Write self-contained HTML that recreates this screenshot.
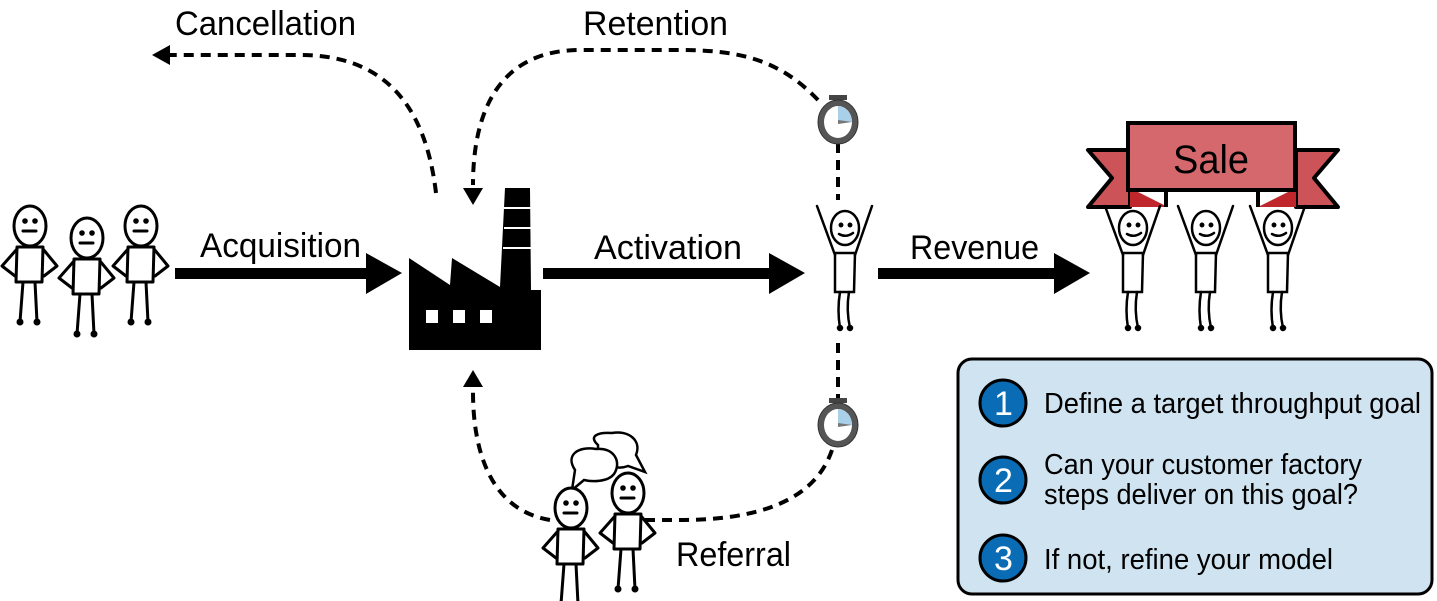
<!DOCTYPE html>
<html><head><meta charset="utf-8"><style>
html,body{margin:0;padding:0;background:#fff;}
svg{display:block}
text{font-family:"Liberation Sans Narrow","Liberation Sans",sans-serif;fill:#000}
</style></head><body>
<svg width="1437" height="601" viewBox="0 0 1437 601" xmlns="http://www.w3.org/2000/svg">
<defs>
<g id="stand" fill="none" stroke="#000" stroke-width="3" stroke-linecap="round" stroke-linejoin="round">
  <ellipse cx="0" cy="0" rx="16" ry="20" fill="#fff"/>
  <circle cx="-5" cy="-5" r="1.3" fill="#000"/><circle cx="5" cy="-5" r="1.3" fill="#000"/>
  <line x1="-7" y1="5" x2="6" y2="5"/>
  <path d="M-13 21 L-14 56 L12 56 L13 21 Z" fill="#fff"/>
  <path d="M-13 23 L-28 40 L-15 50"/><path d="M13 23 L27 40 L14 50"/>
  <path d="M-7 56 L-10 96"/><path d="M5 56 L7 96"/>
  <circle cx="-10" cy="96" r="2" fill="#000"/><circle cx="7" cy="96" r="2" fill="#000"/>
</g>
<g id="up" fill="none" stroke="#000" stroke-width="2.5" stroke-linecap="round">
  <ellipse cx="0" cy="0" rx="14" ry="17" fill="#fff"/>
  <circle cx="-4" cy="-3" r="1.2" fill="#000"/><circle cx="5" cy="-3" r="1.2" fill="#000"/>
  <path d="M-6 6 Q1 10 8 5"/>
  <path d="M-10 25 L-10 64 L9 64 L10 25 Z" fill="#fff"/>
  <path d="M-10 27 L-28 -22"/><path d="M10 27 L27 -22"/>
  <path d="M-5 64 Q-8 82 -5 100"/><path d="M4 64 Q1 82 5 100"/>
  <circle cx="-5" cy="100" r="2" fill="#000"/><circle cx="5" cy="100" r="2" fill="#000"/>
</g>
<g id="watch">
  <rect x="-9" y="-27" width="18" height="5" fill="#444"/>
  <rect x="-3" y="-24" width="6" height="6" fill="#444"/>
  <ellipse cx="0" cy="0" rx="20" ry="22" fill="#555" stroke="#333" stroke-width="1"/>
  <ellipse cx="0" cy="0" rx="14" ry="16" fill="#fff"/>
  <path d="M0 0 L0 -16 A14 16 0 0 1 14 0 Z" fill="#a9cfe9"/>
  <path d="M0 -2 L14 0 L0 2 Z" fill="#777"/>
</g>
</defs>

<!-- dashed connectors -->
<g fill="none" stroke="#000" stroke-width="4" stroke-dasharray="10,7">
  <path d="M436 193 C425 100 380 55 300 55 L170 55"/>
  <path d="M818 100 C780 60 740 50 680 50 L580 50 C500 50 473 110 473 185"/>
  <path d="M838 143 L838 200"/>
  <path d="M838 343 L838 398"/>
  <path d="M832 450 C815 500 760 520 680 520 L645 520"/>
  <path d="M550 520 C490 510 473 450 473 392"/>
</g>
<polygon points="152,55 170,45 170,65" fill="#000"/>
<polygon points="463,188 483,188 473,205" fill="#000"/>
<polygon points="463,387 483,387 473,370" fill="#000"/>

<use href="#watch" x="838" y="122"/>
<use href="#watch" x="838" y="425"/>

<!-- solid arrows -->
<rect x="175" y="268" width="195" height="11" fill="#000"/>
<polygon points="366,253 402,273 366,294" fill="#000"/>
<rect x="543" y="268" width="230" height="11" fill="#000"/>
<polygon points="769,253 805,273 769,294" fill="#000"/>
<rect x="878" y="268" width="180" height="11" fill="#000"/>
<polygon points="1054,253 1090,273 1054,294" fill="#000"/>

<!-- factory -->
<path d="M409 350 L409 258 L450 285 L452 258 L500 287 L505 188 L530 188 L531 290 L541 290 L541 350 Z" fill="#000"/>
<g stroke="#fff" stroke-width="2"><line x1="504" y1="208" x2="531" y2="208"/><line x1="504" y1="228" x2="531" y2="228"/><line x1="503" y1="248" x2="531" y2="248"/></g>
<rect x="426" y="310" width="12" height="13" fill="#fff"/>
<rect x="453" y="310" width="12" height="13" fill="#fff"/>
<rect x="480" y="310" width="12" height="13" fill="#fff"/>

<!-- people left -->
<use href="#stand" x="30" y="226"/>
<use href="#stand" x="87" y="238"/>
<use href="#stand" x="141" y="226"/>

<!-- activated person -->
<use href="#up" x="845" y="228"/>

<!-- sale -->
<path d="M1088 150 L1130 150 L1130 207 L1088 207 L1112 178 Z" fill="#cc5358" stroke="#000" stroke-width="4" stroke-linejoin="round"/>
<path d="M1338 150 L1296 150 L1296 207 L1338 207 L1314 178 Z" fill="#cc5358" stroke="#000" stroke-width="4" stroke-linejoin="round"/>
<polygon points="1130,188 1168,207 1130,207" fill="#c0272d"/>
<polygon points="1296,188 1258,207 1296,207" fill="#c0272d"/>
<path d="M1128 123 L1295 123 L1295 190 L1128 190 Z" fill="#d5686c" stroke="#000" stroke-width="4"/>
<rect x="1168" y="192" width="88" height="16" fill="#fff"/>
<path d="M1166 190 L1166 207 M1258 190 L1258 207" stroke="#000" stroke-width="4"/>
<text x="1173" y="173" font-size="40" textLength="76" lengthAdjust="spacingAndGlyphs">Sale</text>
<use href="#up" x="1133" y="228"/>
<use href="#up" x="1206" y="228"/>
<use href="#up" x="1278" y="228"/>

<!-- referral people -->
<g fill="#fff" stroke="#000" stroke-width="2.5">
  <path d="M598 445 C588 436 598 432 612 433 C628 430 642 440 636 455 L645 472 L628 466 C618 470 603 466 598 455 Z"/>
  <path d="M575 470 C565 455 578 446 596 449 C614 447 622 462 614 474 C608 482 592 482 584 480 L572 490 Z"/>
</g>
<use href="#stand" x="571" y="508"/>
<use href="#stand" x="628" y="493"/>

<!-- labels -->
<text x="175" y="35" font-size="34" textLength="181" lengthAdjust="spacingAndGlyphs">Cancellation</text>
<text x="583" y="35" font-size="34" textLength="145" lengthAdjust="spacingAndGlyphs">Retention</text>
<text x="200" y="257" font-size="34" textLength="161" lengthAdjust="spacingAndGlyphs">Acquisition</text>
<text x="594" y="259" font-size="34" textLength="148" lengthAdjust="spacingAndGlyphs">Activation</text>
<text x="910" y="259" font-size="34" textLength="129" lengthAdjust="spacingAndGlyphs">Revenue</text>
<text x="676" y="566" font-size="34" textLength="115" lengthAdjust="spacingAndGlyphs">Referral</text>

<!-- box -->
<rect x="958" y="359" width="474" height="235" rx="14" fill="#cfe3f0" stroke="#000" stroke-width="3"/>
<g stroke="#000" stroke-width="3" fill="#0a6cb4">
  <circle cx="1003" cy="403" r="23"/><circle cx="1003" cy="480" r="23"/><circle cx="1003" cy="558" r="23"/>
</g>
<g font-size="34">
  <text x="994" y="415" style="fill:#fff">1</text>
  <text x="994" y="492" style="fill:#fff">2</text>
  <text x="994" y="570" style="fill:#fff">3</text>
</g>
<g font-size="29">
  <text x="1044" y="413" textLength="377" lengthAdjust="spacingAndGlyphs">Define a target throughput goal</text>
  <text x="1044" y="474" textLength="318" lengthAdjust="spacingAndGlyphs">Can your customer factory</text>
  <text x="1044" y="504" textLength="314" lengthAdjust="spacingAndGlyphs">steps deliver on this goal?</text>
  <text x="1044" y="569" textLength="289" lengthAdjust="spacingAndGlyphs">If not, refine your model</text>
</g>
</svg>
</body></html>
